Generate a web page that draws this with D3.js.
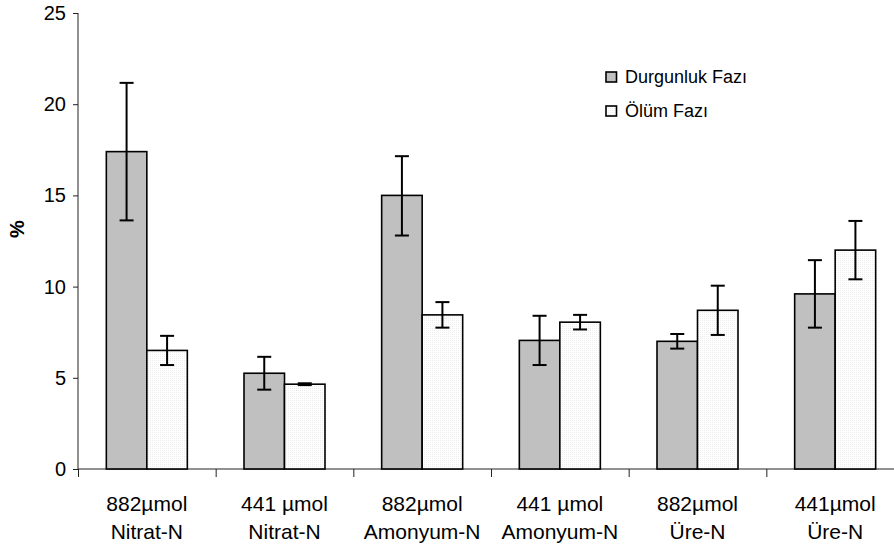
<!DOCTYPE html>
<html>
<head>
<meta charset="utf-8">
<script src="https://cdn.jsdelivr.net/npm/d3@7"></script>
<style>
  body { margin: 0; background: #fff; }
  svg { display: block; font-family: "Liberation Sans", Arial, sans-serif; }
</style>
</head>
<body>
<div id="chart"></div>
<script>
// veriler
const categories = [
    ['882µmol', 'Nitrat-N'],
    ['441 µmol', 'Nitrat-N'],
    ['882µmol', 'Amonyum-N'],
    ['441 µmol', 'Amonyum-N'],
    ['882µmol', 'Üre-N'],
    ['441µmol', 'Üre-N']
];
const seriesNames = ['Durgunluk Fazı', 'Ölüm Fazı'];
const durgunluk = [17.4, 5.25, 15.0, 7.05, 7.0, 9.6];
const durgunlukErrUp = [3.77, 0.9, 2.15, 1.35, 0.4, 1.85];
const durgunlukErrDown = [3.77, 0.9, 2.2, 1.35, 0.4, 1.85];
const olum = [6.5, 4.65, 8.45, 8.05, 8.7, 12.0];
const olumErrUp = [0.8, 0.05, 0.7, 0.4, 1.35, 1.6];
const olumErrDown = [0.8, 0.05, 0.7, 0.4, 1.35, 1.6];
const yTicks = [0, 5, 10, 15, 20, 25];

const width = 894, height = 548;
const plotLeft = 78, plotTop = 13, plotBottom = 469, plotRight = 904;

const svg = d3.select('#chart').append('svg')
    .attr('width', width)
    .attr('height', height);

// desen: beyaz çubuklar için ince noktalı dolgu
const defs = svg.append('defs');
const pat = defs.append('pattern')
    .attr('id', 'dots')
    .attr('patternUnits', 'userSpaceOnUse')
    .attr('width', 2)
    .attr('height', 2);
pat.append('rect').attr('width', 2).attr('height', 2).attr('fill', '#ffffff');
pat.append('rect').attr('width', 1).attr('height', 1).attr('fill', '#ededed');

const y = d3.scaleLinear().domain([0, 25]).range([plotBottom, plotTop]);
const x = d3.scaleBand().domain(d3.range(categories.length)).range([plotLeft, plotRight]).padding(0);
const step = x.bandwidth();
const xInner = d3.scaleBand().domain(seriesNames)
    .range([step / 2 - 40.5, step / 2 + 40.5]).padding(0);
const xBound = d3.scaleLinear().domain([0, categories.length]).range([plotLeft, plotRight]);

const fills = { 'Durgunluk Fazı': '#c0c0c0', 'Ölüm Fazı': 'url(#dots)' };

const rows = [];
categories.forEach((c, i) => {
    rows.push({ i, s: seriesNames[0], v: durgunluk[i], up: durgunlukErrUp[i], down: durgunlukErrDown[i] });
    rows.push({ i, s: seriesNames[1], v: olum[i], up: olumErrUp[i], down: olumErrDown[i] });
});

// eksenler
const yAxis = svg.append('g')
    .attr('transform', `translate(${plotLeft},0)`)
    .call(d3.axisLeft(y).tickValues(yTicks).tickSize(5).tickPadding(7).tickFormat(d3.format('d')));
yAxis.select('.domain').attr('d', `M0,${plotTop}V${plotBottom}`).attr('stroke', '#222');
yAxis.selectAll('.tick line').attr('stroke', '#222');
yAxis.selectAll('text').style('font-size', '20px').attr('fill', '#000');

const xAxis = svg.append('g')
    .attr('transform', `translate(0,${plotBottom})`)
    .call(d3.axisBottom(xBound).tickValues(d3.range(categories.length + 1)).tickSize(8).tickFormat(''));
xAxis.select('.domain').attr('d', `M${plotLeft},0H${width}`).attr('stroke', '#222');
xAxis.selectAll('.tick line').attr('stroke', '#222');

// çubuklar
svg.append('g').selectAll('rect')
    .data(rows)
    .join('rect')
    .attr('x', d => x(d.i) + xInner(d.s))
    .attr('y', d => y(d.v))
    .attr('width', xInner.bandwidth())
    .attr('height', d => y(0) - y(d.v))
    .attr('fill', d => fills[d.s])
    .attr('stroke', '#000')
    .attr('stroke-width', 1.6);

// hata çubukları
const eb = svg.append('g').attr('stroke', '#000').attr('stroke-width', 2);
rows.forEach(d => {
    const cx = x(d.i) + xInner(d.s) + xInner.bandwidth() / 2;
    const y1 = y(d.v + d.up), y2 = y(d.v - d.down);
    eb.append('line').attr('x1', cx).attr('x2', cx).attr('y1', y1).attr('y2', y2);
    eb.append('line').attr('x1', cx - 7).attr('x2', cx + 7).attr('y1', y1).attr('y2', y1);
    eb.append('line').attr('x1', cx - 7).attr('x2', cx + 7).attr('y1', y2).attr('y2', y2);
});

// kategori etiketleri
const lbl = svg.append('g').selectAll('text')
    .data(categories)
    .join('text')
    .attr('text-anchor', 'middle')
    .style('font-size', '21px')
    .attr('fill', '#000');
lbl.append('tspan').attr('x', (d, i) => x(i) + step / 2).attr('y', 511).text(d => d[0]);
lbl.append('tspan').attr('x', (d, i) => x(i) + step / 2).attr('y', 539).text(d => d[1]);

// y ekseni başlığı
svg.append('text')
    .attr('transform', 'translate(24,229) rotate(-90)')
    .attr('text-anchor', 'middle')
    .style('font-size', '20px')
    .style('font-weight', 'bold')
    .text('%');

// lejant
const legend = svg.append('g').attr('transform', 'translate(606,72)');
seriesNames.forEach((s, i) => {
    const g = legend.append('g').attr('transform', `translate(0,${i * 34})`);
    g.append('rect')
        .attr('width', 10.5).attr('height', 10)
        .attr('fill', fills[s])
        .attr('stroke', '#000')
        .attr('stroke-width', 1.6);
    g.append('text')
        .attr('x', 19).attr('y', 10.5)
        .style('font-size', '18px')
        .text(s);
});
</script>
</body>
</html>
